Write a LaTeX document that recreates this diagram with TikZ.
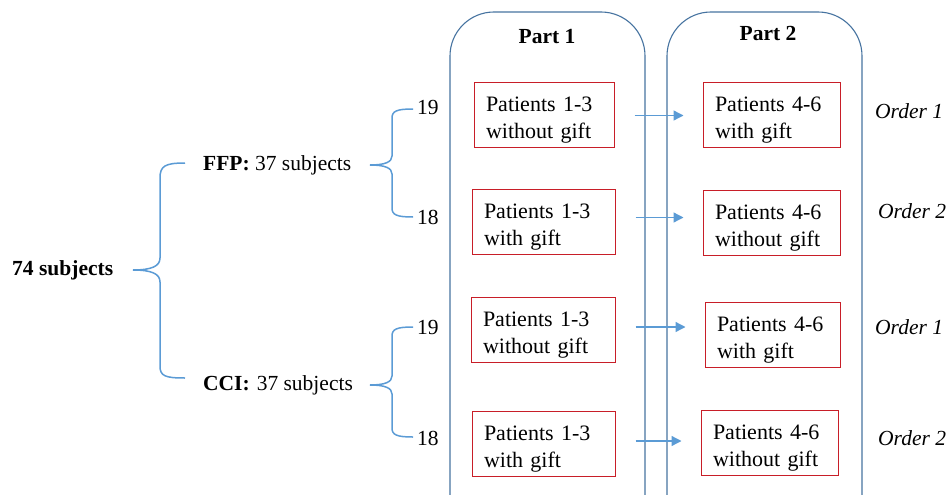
\documentclass[tikz,border=0pt]{standalone}
\usepackage{fontspec}
\setmainfont{Liberation Serif}
\usetikzlibrary{arrows.meta,calc}
\definecolor{braceblue}{RGB}{91,155,213}
\definecolor{partblue}{RGB}{70,115,160}
\definecolor{boxred}{RGB}{200,30,40}
\newcommand{\lblfont}{\fontsize{21.5}{27}\selectfont}
\newcommand{\boxfont}{\fontsize{22}{27}\selectfont}
\tikzset{
  txt/.style={font=\lblfont, inner sep=0pt},
  patbox/.style={draw=boxred, line width=1pt, align=left, font=\boxfont, minimum height=65pt, inner ysep=0pt, inner xsep=12pt,
    execute at begin node=\rule{0pt}{25pt}},
  partbox/.style={draw=partblue, line width=1.1pt, rounded corners=44pt},
  bracel/.style={draw=braceblue, line width=1.5pt},
  arr/.style={draw=braceblue, line width=1.3pt, -{Triangle[length=10pt,width=10pt]}, shorten <=20pt, shorten >=19pt},
}
\begin{document}
\begin{tikzpicture}[x=1pt,y=-1pt]
\useasboundingbox (0,0) rectangle (950,495);
% part boxes
\begin{scope}
\clip (0,0) rectangle (950,495);
\draw[partbox] (450,12) rectangle (645,560);
\draw[partbox] (667,12) rectangle (862,560);
\end{scope}
\node[txt, font=\lblfont\bfseries] (p1) at (547,37) {Part 1};
\node[txt, font=\lblfont\bfseries] (p2) at (768,33) {Part 2};
% patient boxes
\node[patbox, text width=116pt] (L1) at (544,114.5) {Patients 1-3\\without gift};
\node[patbox, text width=119pt] (L2) at (543.5,221.5) {Patients 1-3\\with gift};
\node[patbox, text width=120pt] (L3) at (543,330) {Patients 1-3\\without gift};
\node[patbox, text width=119pt] (L4) at (543.5,444) {Patients 1-3\\with gift};
\node[patbox, text width=113pt] (R1) at (771.5,114.5) {Patients 4-6\\with gift};
\node[patbox, text width=113pt] (R2) at (771.5,222.5) {Patients 4-6\\without gift};
\node[patbox, text width=111pt] (R3) at (772.5,335) {Patients 4-6\\with gift};
\node[patbox, text width=113pt] (R4) at (769.5,443) {Patients 4-6\\without gift};
% arrows
\draw[arr] ($(L1.east)+(0,1)$) -- ($(R1.west)+(0,1)$);
\draw[arr] ($(L2.east)+(0,-4)$) -- ($(R2.west)+(0,-5)$);
\draw[arr] ($(L3.east)+(0,-3)$) -- ($(R3.west)+(0,-8)$);
\draw[arr] ($(L4.east)+(0,-3)$) -- ($(R4.west)+(0,-2)$);
% order labels
\node[txt, anchor=west, font=\lblfont\itshape] (o1) at (875,111) {Order 1};
\node[txt, anchor=west, font=\lblfont\itshape] (o2) at (878,211) {Order 2};
\node[txt, anchor=west, font=\lblfont\itshape] (o3) at (875,327) {Order 1};
\node[txt, anchor=west, font=\lblfont\itshape] (o4) at (878,438) {Order 2};
% left labels
\node[txt, anchor=west, font=\lblfont\bfseries] (all) at (12,270) {74 subjects};
\node[txt, anchor=west] (ffp) at (203,165) {\textbf{FFP:} 37 subjects};
\node[txt, anchor=west] (cci) at (203,385) {\textbf{CCI:}\hspace{7pt}37 subjects};
\node[txt, anchor=west] (n19a) at (417,107) {19};
\node[txt, anchor=west] (n18a) at (417,217) {18};
\node[txt, anchor=west] (n19b) at (417,327) {19};
\node[txt, anchor=west] (n18b) at (417,438) {18};
% big brace
\coordinate (bt) at (133,270);
\draw[bracel] ($(ffp.west)+(-18,-2)$) .. controls (165,163) and (160,166) .. (160,178) -- (160,258) .. controls (160,266) and (152,270) .. (bt)
  .. controls (152,270) and (160,274) .. (160,282) -- (160,366) .. controls (160,376) and (165,378) .. ($(cci.west)+(-18,-7)$);
% small brace 1
\draw[bracel] ($(n19a.west)+(-4,2)$) .. controls (397,109) and (392,111) .. (392,118) -- (392,156) .. controls (392,162) and (385,165) .. (370,165)
  .. controls (385,165) and (392,168) .. (392,174) -- (392,208) .. controls (392,215) and (397,217) .. ($(n18a.west)+(-4,0)$);
% small brace 2
\draw[bracel] ($(n19b.west)+(-4,0)$) .. controls (397,327) and (392,329) .. (392,336) -- (392,376) .. controls (392,382) and (385,385) .. (370,385)
  .. controls (385,385) and (392,388) .. (392,394) -- (392,428) .. controls (392,435) and (397,437) .. ($(n18b.west)+(-4,-1)$);
\end{tikzpicture}
\end{document}
